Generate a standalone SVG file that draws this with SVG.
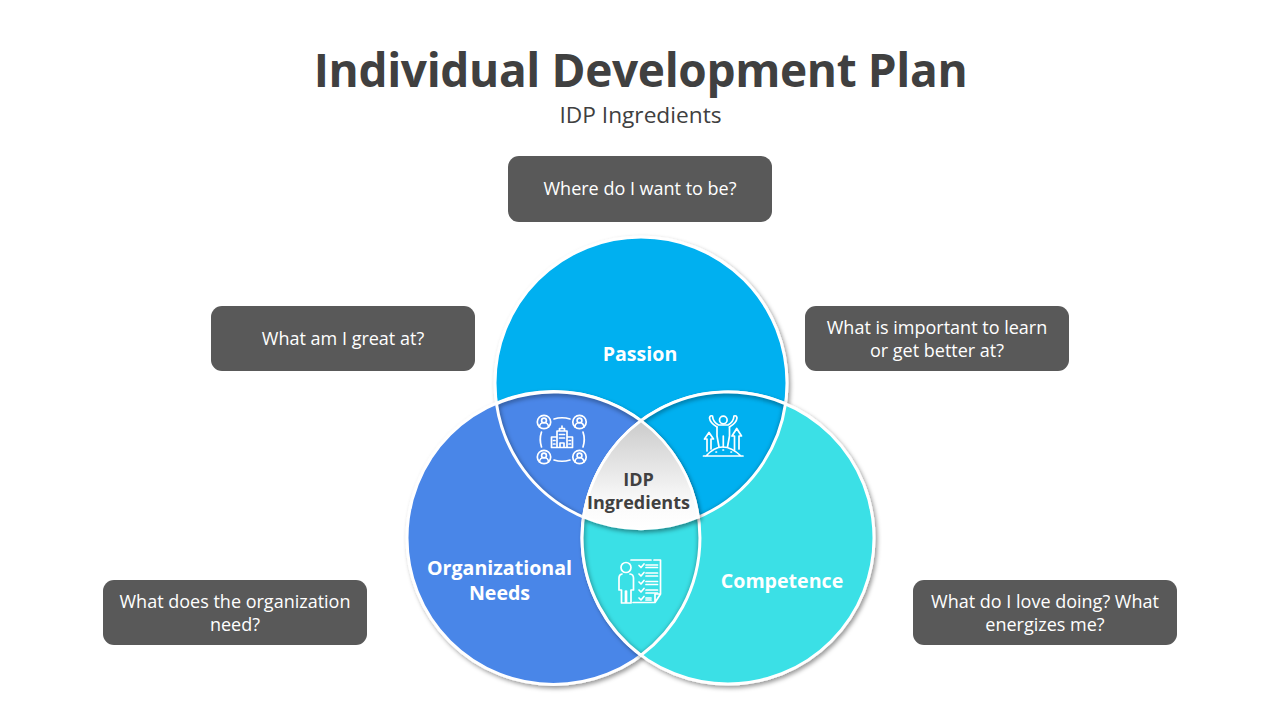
<svg xmlns="http://www.w3.org/2000/svg" width="1280" height="720" viewBox="0 0 1280 720">
<style>
text{font-family:"Open Sans","Noto Sans","Liberation Sans",sans-serif;text-anchor:middle}
.title{font-size:46px;font-weight:700;fill:#404040;letter-spacing:-.37px}
.sub{font-size:22.7px;fill:#404040}
.box{fill:#595959}
.q{font-size:18px;fill:#fff}
.lab{font-size:19.6px;font-weight:700;fill:#fff}
.ctr{font-size:18px;font-weight:700;fill:#404040}
.ring{stroke:#fff;stroke-width:3}
.edge{fill:none;stroke:#fff;stroke-width:3}
.ico{fill:none;stroke:#fff;stroke-width:1.7;stroke-linecap:round;stroke-linejoin:round}
.inner{fill:none;stroke:#000;stroke-opacity:.32;stroke-width:5}
</style>
<defs>
<filter id="sh" x="-10%" y="-10%" width="125%" height="125%"><feDropShadow dx="2" dy="2.5" stdDeviation="2" flood-color="#000" flood-opacity=".4"/></filter>
<filter id="bl" x="-20%" y="-20%" width="140%" height="140%"><feGaussianBlur stdDeviation="2.2"/></filter>
<linearGradient id="g" x1="0" y1="0" x2="0" y2="1"><stop offset="0" stop-color="#cbcbcb"/><stop offset=".75" stop-color="#fafafa"/><stop offset="1" stop-color="#fff"/></linearGradient>
<path id="lPO" d="M496.5 403.8A146 146 0 0 1 698.5 517.2A146 146 0 0 1 496.5 403.8Z"/>
<path id="lPC" d="M785.5 403.8A146 146 0 0 0 583.5 517.2A146 146 0 0 0 785.5 403.8Z"/>
<path id="lOC" d="M641 420.8A146 146 0 0 1 641 655.2A146 146 0 0 1 641 420.8Z"/>
<path id="tri" d="M641 420.8A146 146 0 0 1 698.5 517.2A146 146 0 0 1 583.5 517.2A146 146 0 0 1 641 420.8Z"/>
<clipPath id="cPO"><use href="#lPO"/></clipPath>
<clipPath id="cPC"><use href="#lPC"/></clipPath>
<clipPath id="cOC"><use href="#lOC"/></clipPath>
</defs>
<rect width="1280" height="720" fill="#fff"/>
<text class="title" x="640.5" y="87">Individual Development Plan</text>
<text class="sub" x="640.500" y="123">IDP Ingredients</text>

<g id="q-top"><rect class="box" x="508" y="156" width="264" height="66" rx="11"/><text class="q" x="640" y="195">Where do I want to be?</text></g>
<g id="q-left"><rect class="box" x="211" y="306" width="264" height="65" rx="11"/><text class="q" x="343" y="345">What am I great at?</text></g>
<g id="q-right"><rect class="box" x="805" y="306" width="264" height="65" rx="11"/><text class="q" x="937" y="334">What is important to learn</text><text class="q" x="937" y="357">or get better at?</text></g>
<g id="q-bl"><rect class="box" x="103" y="580" width="264" height="65" rx="11"/><text class="q" x="235" y="608">What does the organization</text><text class="q" x="235" y="631">need?</text></g>
<g id="q-br"><rect class="box" x="913" y="580" width="264" height="65" rx="11"/><text class="q" x="1045" y="608">What do I love doing? What</text><text class="q" x="1045" y="631">energizes me?</text></g>

<g id="passion"><circle class="ring" cx="641" cy="383" r="146" fill="#00B0F0" filter="url(#sh)"/><text class="lab" x="640" y="361">Passion</text></g>
<g id="organizational"><circle class="ring" cx="553.500" cy="538" r="146.500" fill="#4A86E8" filter="url(#sh)"/></g>
<g id="competence"><circle class="ring" cx="728" cy="538" r="146" fill="#3AE0E6" filter="url(#sh)"/></g>

<g id="lens-po"><use href="#lPO" fill="#4A86E8"/><g clip-path="url(#cPO)"><use href="#lPO" class="inner" filter="url(#bl)" transform="translate(.5 1.500)"/></g><use href="#lPO" class="edge"/></g>
<g id="lens-pc"><use href="#lPC" fill="#00B0F0"/><g clip-path="url(#cPC)"><use href="#lPC" class="inner" filter="url(#bl)" transform="translate(.5 1.500)"/></g><use href="#lPC" class="edge"/></g>
<g id="lens-oc"><use href="#lOC" fill="#3AE0E6"/><g clip-path="url(#cOC)"><use href="#lOC" class="inner" filter="url(#bl)" transform="translate(.5 1.500)"/></g><use href="#lOC" class="edge"/></g>
<g id="center"><use href="#tri" fill="url(#g)" stroke="#fff" stroke-width="2.500" filter="url(#sh)"/></g>

<text class="lab" x="499.500" y="575">Organizational</text><text class="lab" x="499.500" y="600">Needs</text>
<text class="lab" x="782" y="588">Competence</text>
<text class="ctr" x="638.500" y="486">IDP</text><text class="ctr" x="638.500" y="509">Ingredients</text>

<g id="icon-org" class="ico">
<circle cx="544" cy="422" r="6.700"/><circle cx="544" cy="420.500" r="2.400"/><path d="M539.500 427a4.500 4.500 0 0 1 9 0"/>
<circle cx="579.500" cy="422" r="6.700"/><circle cx="579.500" cy="420.500" r="2.400"/><path d="M575 427a4.500 4.500 0 0 1 9 0"/>
<circle cx="544" cy="457" r="6.700"/><circle cx="544" cy="455.500" r="2.400"/><path d="M539.500 462a4.500 4.500 0 0 1 9 0"/>
<circle cx="579.500" cy="457" r="6.700"/><circle cx="579.500" cy="455.500" r="2.400"/><path d="M575 462a4.500 4.500 0 0 1 9 0"/>
<path d="M554 419Q562 416.500 570 419M554 460Q562 462.500 570 460M541.500 432Q539 439.500 541.500 447M583 432Q585.500 439.500 583 447"/>
<path d="M557 447.500V431H567V447.500M559.500 431V428.500H564.500V431M562 428.500V426M557 437H551.500V447.500H572.500V437H567M560 447.500V443H564V447.500M559.500 434.500H564.500M559.500 438H564.500M553.500 440.500H555M553.500 444H555M569 440.500H570.500M569 444H570.500"/>
</g>
<g id="icon-peak" class="ico">
<circle cx="723.300" cy="420" r="3.800"/>
<path d="M717 427V436L719 447M729.500 427V436L727.500 447M723.300 436V447"/>
<path d="M717 427Q710 423 709.500 418Q710 415 712.500 416Q713 422 718.500 425H728Q733.500 422 734 416Q736.500 415 737 418Q736.500 423 729.500 427"/>
<path d="M703.500 456H743M706 456Q722 438 741 456"/>
<path d="M704.500 439L709 432.500L713.500 439H711V449M707 439V451M704.500 439H707"/>
<path d="M732 436L736.700 428.500L741.500 436H739V449M734.500 436V450M732 436H734.500"/>
<path d="M716 452h.5M723 450h.5M731 452h.5"/>
</g>
<g id="icon-plan" class="ico">
<circle cx="626" cy="567.500" r="5"/>
<path d="M622 574Q619 574.500 619 578V590H621.500V603H625.500V591M630 574Q633.500 574.500 633.500 578V590H631V603H626.500V591"/>
<path d="M631 560H651M654 560H660.500V594L655 602.500H633M660.500 594H655V602.500"/>
<path d="M639 565.500L641 567.500L644 564M639 574L641 576L644 572.500M639 582L641 584L644 580.500M639 590L641 592L644 588.500M639 598L641 600L644 596.500"/>
<path d="M646 565H657.500M646 567.500H657.500M646 573H657.500M646 576H657.500M646 581.500H657.500M646 584.500H657.500M646 590H657.500M646 593H657.500M646 598H651M646 600H651"/>
</g>
</svg>
